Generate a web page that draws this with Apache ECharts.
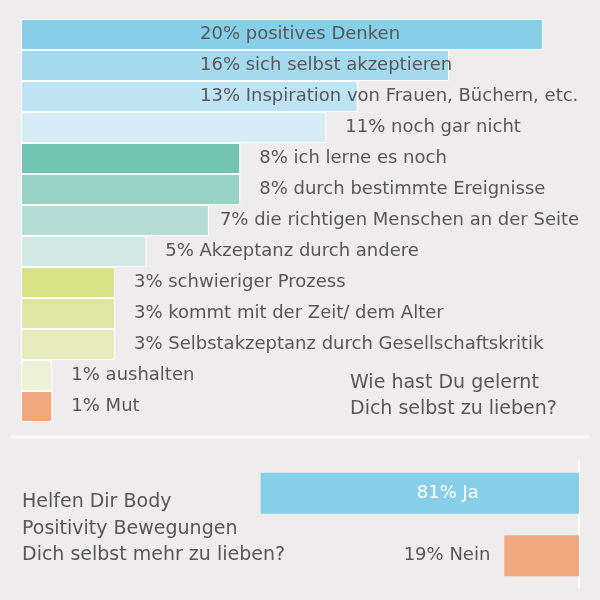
<!DOCTYPE html>
<html><head><meta charset="utf-8">
<script src="https://cdn.jsdelivr.net/npm/echarts@6/dist/echarts.min.js"></script>
<style>html,body{margin:0;padding:0;background:#eeeced}#c{width:600px;height:600px}</style>
</head><body><div id="c"></div>
<script>
const reasons = ["positives Denken","sich selbst akzeptieren","Inspiration von Frauen, Büchern, etc.","noch gar nicht","ich lerne es noch","durch bestimmte Ereignisse","die richtigen Menschen an der Seite","Akzeptanz durch andere","schwieriger Prozess","kommt mit der Zeit/ dem Alter","Selbstakzeptanz durch Gesellschaftskritik","aushalten","Mut"];
const reasonPct = [20,16,13,11,8,8,7,5,3,3,3,1,1];
const reasonValues = [20,16.4,12.9,11.7,8.4,8.4,7.2,4.8,3.6,3.6,3.6,1.2,1.2];
const reasonColors = ["#87cfe8","#a5d9ee","#bee4f3","#d5edf7","#72c4b5","#98d2c6","#b4ddd5","#d1e8e4","#d6e188","#dee6a4","#e6ecbd","#edf2d6","#f2a87e"];
const answers = ["Ja","Nein"];
const answerPct = [81,19];
const answerColors = ["#87cfe8","#f2a87e"];
const title1 = "Wie hast Du gelernt\nDich selbst zu lieben?";
const title2 = "Helfen Dir Body\nPositivity Bewegungen\nDich selbst mehr zu lieben?";

const FONT = "DejaVu Sans";
const TXT = "#575757";
const chart = echarts.init(document.getElementById('c'));
chart.setOption({
  backgroundColor: "#eeeced",
  animation: false,
  textStyle: {fontFamily: FONT},
  title: [
    {text: title1, left: 350, top: 370, padding: 0, textStyle: {fontFamily: FONT, fontSize: 19, fontWeight: 'normal', color: TXT, lineHeight: 26}},
    {text: title2, left: 22, top: 489, padding: 0, textStyle: {fontFamily: FONT, fontSize: 19, fontWeight: 'normal', color: TXT, lineHeight: 26.5}}
  ],
  graphic: [{type: 'rect', shape: {x: 11, y: 435, width: 578, height: 4}, style: {fill: '#f7f6f6'}, silent: true}],
  grid: [
    {left: 21, right: 57, top: 19, height: 403},
    {left: 186, right: 21, top: 462, height: 125}
  ],
  xAxis: [
    {gridIndex: 0, type: 'value', min: 0, max: 20, show: false},
    {gridIndex: 1, type: 'value', min: 0, max: 100, inverse: true, show: false}
  ],
  yAxis: [
    {gridIndex: 0, type: 'category', data: reasons, inverse: true, axisLine: {show: false}, axisTick: {show: false}, axisLabel: {show: false}, splitLine: {show: false}},
    {gridIndex: 1, type: 'category', data: answers, inverse: true, position: 'right', axisLine: {show: true, lineStyle: {color: '#ffffff', width: 2}}, axisTick: {show: false}, axisLabel: {show: false}, splitLine: {show: false}}
  ],
  series: [
    {type: 'bar', xAxisIndex: 0, yAxisIndex: 0, barWidth: '100%',
     data: reasonValues.map((v, i) => ({
       value: v,
       itemStyle: {color: reasonColors[i], borderColor: '#ffffff', borderWidth: 1},
       label: i < 3 ? {show: true, position: [179, '50%'], align: 'left', verticalAlign: 'middle'} : {show: true, position: 'right', distance: i === 6 ? 11 : 19}
     })),
     label: {show: true, color: TXT, fontSize: 18, fontFamily: FONT,
       formatter: p => reasonPct[p.dataIndex] + '% ' + reasons[p.dataIndex]}
    },
    {type: 'bar', xAxisIndex: 1, yAxisIndex: 1, barWidth: 41,
     data: answerPct.map((v, i) => ({
       value: v,
       itemStyle: {color: answerColors[i]},
       label: i === 0 ? {show: true, position: 'inside', offset: [28, 0], color: '#ffffff'} : {show: true, position: 'left', distance: 14, color: TXT}
     })),
     label: {show: true, fontSize: 18, fontFamily: FONT,
       formatter: p => answerPct[p.dataIndex] + '% ' + answers[p.dataIndex]}
    }
  ]
});
</script></body></html>
